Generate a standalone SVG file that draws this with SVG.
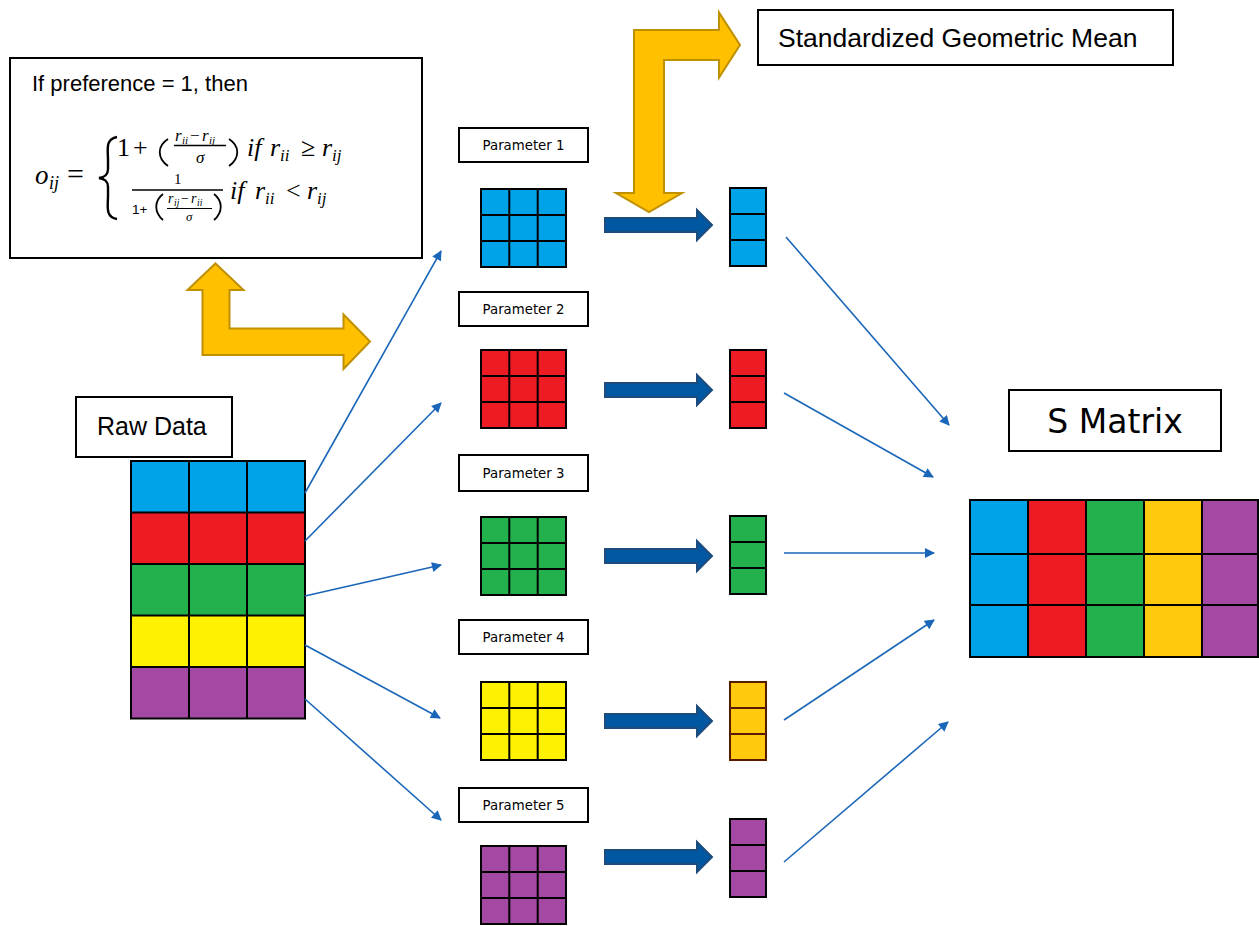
<svg xmlns="http://www.w3.org/2000/svg" xmlns:xlink="http://www.w3.org/1999/xlink" width="1259" height="926" viewBox="0 0 1259 926">
<style>
.box{fill:#fff;stroke:#000;stroke-width:2}
.sans{font-family:"Liberation Sans",Arial,sans-serif;fill:#000}
.tah{font-family:"DejaVu Sans",Verdana,sans-serif;fill:#000}
.m{font-family:"Liberation Serif","DejaVu Serif",serif;fill:#000}
.mi{font-family:"Liberation Serif","DejaVu Serif",serif;font-style:italic;fill:#000}
.conn{stroke:#1A66B8;stroke-width:1.6;fill:none;marker-end:url(#ah)}
.yarrow{fill:#FFC000;stroke:#BF9000;stroke-width:2;stroke-linejoin:miter}
.barrow{fill:#0058A3;stroke:#1D4C7C;stroke-width:2}
.grid{fill:none;stroke:#000;stroke-width:2}
.pl{fill:none;stroke:#000;stroke-width:1.8}
</style>
<defs>
<marker id="ah" viewBox="0 0 10 10" refX="9" refY="5" markerWidth="12" markerHeight="10" markerUnits="userSpaceOnUse" orient="auto">
<path d="M0,0 L10,5 L0,10 z" fill="#1A66B8"/>
</marker>
<g id="m3">
<rect x="0" y="0" width="85" height="78" stroke="#000" stroke-width="2"/>
<path d="M28.3,0V78M56.7,0V78M0,26H85M0,52H85" fill="none" stroke="#000" stroke-width="2"/>
</g>
<g id="c3">
<rect x="0" y="0" width="36" height="78" stroke-width="2"/>
<path d="M0,26H36M0,52H36" fill="none" stroke-width="2"/>
</g>
</defs>

<!-- formula box -->
<g id="formula">
<rect class="box" x="10" y="58" width="412" height="200"/>
<text class="sans" x="32" y="91" font-size="22">If preference = 1, then</text>
<text class="mi" x="35" y="184" font-size="27">o</text>
<text class="mi" x="49" y="189" font-size="18">ij</text>
<text class="m" x="67" y="184" font-size="30">=</text>
<path d="M117,137 C105,139 108,150 108,160 L108,169 C108,175 105,177 99,178 C105,179 108,181 108,187 L108,196 C108,206 105,217 117,219" fill="none" stroke="#000" stroke-width="2.4"/>
<!-- line 1 -->
<text class="m" x="117" y="156" font-size="26">1</text>
<text class="m" x="133" y="156" font-size="26">+</text>
<path d="M168,139 C157,146 157,158 168,166" class="pl"/>
<text class="mi" x="175" y="141" font-size="17">r</text>
<text class="mi" x="182" y="144" font-size="11">ii</text>
<text class="m" x="190" y="141" font-size="17">−</text>
<text class="mi" x="202" y="141" font-size="17">r</text>
<text class="mi" x="209" y="144" font-size="11">ij</text>
<line x1="174" y1="145.5" x2="226" y2="145.5" stroke="#000" stroke-width="1.3"/>
<text class="mi" x="196" y="163" font-size="17">σ</text>
<path d="M229,139 C240,146 240,158 229,166" class="pl"/>
<text class="mi" x="247" y="156" font-size="26">if</text>
<text class="mi" x="270" y="156" font-size="26">r</text>
<text class="mi" x="280" y="161" font-size="17">ii</text>
<text class="m" x="301" y="156" font-size="26">≥</text>
<text class="mi" x="322" y="156" font-size="26">r</text>
<text class="mi" x="332" y="161" font-size="17">ij</text>
<!-- line 2 -->
<text class="m" x="174" y="184" font-size="15">1</text>
<line x1="132" y1="190" x2="223" y2="190" stroke="#000" stroke-width="1.6"/>
<text class="sans" x="132" y="214" font-size="13.5">1+</text>
<path d="M163,194 C154,201 154,212 163,220" class="pl"/>
<text class="mi" x="168" y="203" font-size="14">r</text>
<text class="mi" x="174" y="206" font-size="9.5">ij</text>
<text class="m" x="181" y="203" font-size="14">−</text>
<text class="mi" x="191" y="203" font-size="14">r</text>
<text class="mi" x="197" y="206" font-size="9.5">ii</text>
<line x1="167" y1="208.5" x2="212" y2="208.5" stroke="#000" stroke-width="1.2"/>
<text class="mi" x="186" y="221" font-size="13">σ</text>
<path d="M214,194 C223,201 223,212 214,220" class="pl"/>
<text class="mi" x="230" y="199" font-size="26">if</text>
<text class="mi" x="255" y="199" font-size="26">r</text>
<text class="mi" x="265" y="204" font-size="17">ii</text>
<text class="m" x="286" y="199" font-size="26">&lt;</text>
<text class="mi" x="307" y="199" font-size="26">r</text>
<text class="mi" x="317" y="204" font-size="17">ij</text>
</g>

<!-- yellow arrows -->
<g id="yellow-arrow-formula">
<polygon class="yarrow" points="215.5,263.5 243.5,290 229.5,290 229.5,328.5 343.5,328.5 343.5,314.5 370,341.5 343.5,369 343.5,355 202.5,355 202.5,290 187.5,290"/>
</g>
<g id="yellow-arrow-sgm">
<polygon class="yarrow" points="634,30 719,30 719,12.5 740,45 719,77.5 719,60 664,60 664,193 682,193 649,212 616,193 634,193"/>
</g>

<!-- standardized geometric mean -->
<g id="sgm">
<rect class="box" x="758" y="10" width="415" height="55"/>
<text class="sans" x="778" y="47" font-size="26.5">Standardized Geometric Mean</text>
</g>

<!-- raw data -->
<g id="raw-data">
<rect class="box" x="76" y="397" width="156" height="60"/>
<text class="sans" x="97" y="435" font-size="25">Raw Data</text>
<rect x="131" y="461" width="174" height="51.5" fill="#00A2E8"/>
<rect x="131" y="512.5" width="174" height="51.5" fill="#ED1C24"/>
<rect x="131" y="564" width="174" height="51.5" fill="#22B14C"/>
<rect x="131" y="615.5" width="174" height="51.5" fill="#FFF200"/>
<rect x="131" y="667" width="174" height="51.5" fill="#A349A4"/>
<path class="grid" d="M189,461V718.5M247,461V718.5M131,512.5H305M131,564H305M131,615.5H305M131,667H305"/>
<rect class="grid" x="131" y="461" width="174" height="257.5"/>
</g>

<!-- parameters -->
<g id="param1">
<rect class="box" x="459" y="128" width="129" height="34"/>
<text class="tah" x="523.5" y="150" font-size="13.3" text-anchor="middle">Parameter 1</text>
<use xlink:href="#m3" x="481" y="189" fill="#00A2E8"/>
</g>
<g id="param2">
<rect class="box" x="459" y="292" width="129" height="34"/>
<text class="tah" x="523.5" y="314" font-size="13.3" text-anchor="middle">Parameter 2</text>
<use xlink:href="#m3" x="481" y="350" fill="#ED1C24"/>
</g>
<g id="param3">
<rect class="box" x="459" y="455" width="129" height="36"/>
<text class="tah" x="523.5" y="478" font-size="13.3" text-anchor="middle">Parameter 3</text>
<use xlink:href="#m3" x="481" y="517" fill="#22B14C"/>
</g>
<g id="param4">
<rect class="box" x="459" y="620" width="129" height="34"/>
<text class="tah" x="523.5" y="642" font-size="13.3" text-anchor="middle">Parameter 4</text>
<use xlink:href="#m3" x="481" y="682" fill="#FFF200"/>
</g>
<g id="param5">
<rect class="box" x="459" y="788" width="129" height="34"/>
<text class="tah" x="523.5" y="810" font-size="13.3" text-anchor="middle">Parameter 5</text>
<use xlink:href="#m3" x="481" y="846" fill="#A349A4"/>
</g>

<!-- block arrows -->
<g id="block-arrows">
<polygon class="barrow" points="605,218 697,218 697,210 712,225 697,240 697,232 605,232"/>
<polygon class="barrow" points="605,383 697,383 697,375 712,390 697,405 697,397 605,397"/>
<polygon class="barrow" points="605,549 697,549 697,541 712,556 697,571 697,563 605,563"/>
<polygon class="barrow" points="605,714 697,714 697,706 712,721 697,736 697,728 605,728"/>
<polygon class="barrow" points="605,850 697,850 697,842 712,857 697,872 697,864 605,864"/>
</g>

<!-- vectors -->
<g id="vec1"><use xlink:href="#c3" x="730" y="188" fill="#00A2E8" stroke="#000"/></g>
<g id="vec2"><use xlink:href="#c3" x="730" y="350" fill="#ED1C24" stroke="#000"/></g>
<g id="vec3"><use xlink:href="#c3" x="730" y="516" fill="#22B14C" stroke="#000"/></g>
<g id="vec4"><use xlink:href="#c3" x="730" y="682" fill="#FFC90E" stroke="#5a1a00"/></g>
<g id="vec5"><use xlink:href="#c3" x="730" y="819" fill="#A349A4" stroke="#000"/></g>

<!-- S matrix -->
<g id="s-matrix">
<rect class="box" x="1009" y="390" width="212" height="61"/>
<text class="tah" x="1115" y="433" font-size="33" text-anchor="middle">S Matrix</text>
<rect x="970" y="500" width="58" height="157" fill="#00A2E8"/>
<rect x="1028" y="500" width="58" height="157" fill="#ED1C24"/>
<rect x="1086" y="500" width="58" height="157" fill="#22B14C"/>
<rect x="1144" y="500" width="58" height="157" fill="#FFC90E"/>
<rect x="1202" y="500" width="57" height="157" fill="#A349A4"/>
<path class="grid" d="M1028,500V657M1086,500V657M1144,500V657M1202,500V657M970,554H1259M970,605H1259"/>
<rect class="grid" x="970" y="500" width="288" height="157"/>
</g>

<!-- connectors -->
<g id="connectors">
<line class="conn" x1="305" y1="493" x2="441" y2="251"/>
<line class="conn" x1="305" y1="541" x2="441" y2="403"/>
<line class="conn" x1="305" y1="596" x2="441" y2="565"/>
<line class="conn" x1="305" y1="645" x2="440" y2="718"/>
<line class="conn" x1="305" y1="699" x2="441" y2="820"/>
<line class="conn" x1="786" y1="237" x2="949" y2="425"/>
<line class="conn" x1="784" y1="393" x2="933" y2="477"/>
<line class="conn" x1="784" y1="553" x2="934" y2="553"/>
<line class="conn" x1="784" y1="720" x2="934" y2="620"/>
<line class="conn" x1="784" y1="862" x2="948" y2="722"/>
</g>
</svg>
